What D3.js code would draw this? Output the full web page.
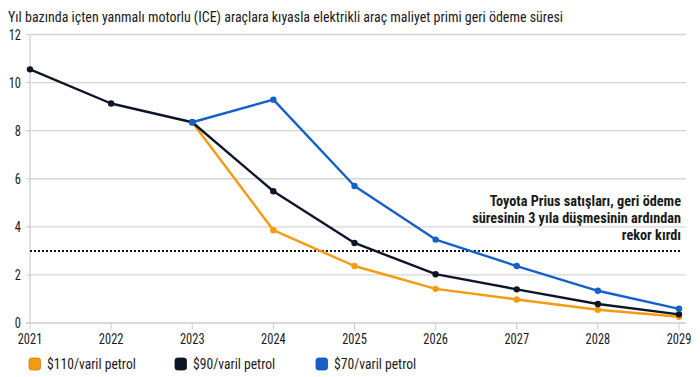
<!DOCTYPE html>
<html><head><meta charset="utf-8">
<script src="https://cdn.jsdelivr.net/npm/d3@7"></script>
<style>
html,body{margin:0;padding:0;background:#fff;}
text{font-family:"Roboto Condensed","Roboto","Liberation Sans Narrow",sans-serif;}
</style></head>
<body><svg id="c" width="700" height="377"></svg>
<script>
const years = [2021,2022,2023,2024,2025,2026,2027,2028,2029];
const yTicks = [0,2,4,6,8,10,12];
const s110Years = [2023,2024,2025,2026,2027,2028,2029];
const s110 = [8.35,3.86,2.37,1.42,0.98,0.55,0.26];
const s90Years = [2021,2022,2023,2024,2025,2026,2027,2028,2029];
const s90 = [10.55,9.13,8.35,5.48,3.33,2.03,1.40,0.79,0.36];
const s70Years = [2023,2024,2025,2026,2027,2028,2029];
const s70 = [8.35,9.29,5.70,3.47,2.37,1.34,0.59];
const seriesNames = ["$110/varil petrol","$90/varil petrol","$70/varil petrol"];
const seriesColors = ["#f39c12","#0d1626","#1560c9"];
const thresholdValue = 3;
const title = "Yıl bazında içten yanmalı motorlu (ICE) araçlara kıyasla elektrikli araç maliyet primi geri ödeme süresi";
const annotation = ["Toyota Prius satışları, geri ödeme","süresinin 3 yıla düşmesinin ardından","rekor kırdı"];

const svg = d3.select("#c");
const x = d3.scaleLinear().domain([2021,2029]).range([30,679]);
const y = d3.scaleLinear().domain([0,12]).range([323,34.5]);
const CF = 0.86; // condensed factor

function ctext(g, tx, ty, str, opts){
  const t = g.append("text").attr("transform",`translate(${tx},${ty}) scale(${opts.f||CF},1)`)
    .attr("text-anchor",opts.anchor||"start").attr("font-size",opts.size||14)
    .attr("fill",opts.fill||"#222").attr("font-weight",opts.weight||"normal").text(str);
  return t;
}

// grid
svg.append("g").selectAll("line").data(yTicks.filter(d=>d>0)).join("line")
  .attr("x1",x(2021)).attr("x2",686).attr("y1",d=>y(d)).attr("y2",d=>y(d))
  .attr("stroke","#d6d6d6").attr("stroke-width",1.3);
// y tick marks
svg.append("g").selectAll("line").data(yTicks).join("line")
  .attr("x1",x(2021)-4).attr("x2",x(2021)).attr("y1",d=>y(d)).attr("y2",d=>y(d))
  .attr("stroke","#ccc").attr("stroke-width",1);
// axes lines
svg.append("line").attr("x1",x(2021)).attr("x2",x(2021)).attr("y1",y(12)).attr("y2",y(0)).attr("stroke","#ccc").attr("stroke-width",1.2);
svg.append("line").attr("x1",x(2021)-4).attr("x2",686).attr("y1",y(0)).attr("y2",y(0)).attr("stroke","#ccc").attr("stroke-width",1.3);
// x ticks
svg.append("g").selectAll("line").data(years).join("line")
  .attr("x1",d=>x(d)).attr("x2",d=>x(d)).attr("y1",y(0)).attr("y2",y(0)+7)
  .attr("stroke","#ccc").attr("stroke-width",1);

// y labels
const yl = svg.append("g");
yTicks.forEach(d=>ctext(yl, 21, y(d)+5, d3.format("d")(d), {anchor:"end", size:14.5, fill:"#1a1a1a"}));
// x labels
const xl = svg.append("g");
years.forEach(d=>ctext(xl, x(d), 344, String(d), {anchor:"middle", size:14.5, fill:"#1a1a1a"}));

// title
svg.append("text").attr("x",8).attr("y",22).attr("font-size",14.5).attr("fill","#1a1a1a")
  .attr("textLength",555).attr("lengthAdjust","spacingAndGlyphs").text(title);

// threshold dotted
svg.append("line").attr("x1",x(2021)).attr("x2",682).attr("y1",y(thresholdValue)).attr("y2",y(thresholdValue))
  .attr("stroke","#111").attr("stroke-width",2).attr("stroke-dasharray","2,2");

// annotation
const an = svg.append("g");
[206,223,240].forEach((yy,i)=>ctext(an, 681, yy, annotation[i], {anchor:"end", size:15.5, weight:"bold", fill:"#1a1a1a", f:0.92}));

// series
const series = [
  {yrs:s110Years, vals:s110, c:seriesColors[0]},
  {yrs:s90Years, vals:s90, c:seriesColors[1]},
  {yrs:s70Years, vals:s70, c:seriesColors[2]},
];
const line = d3.line().x(d=>x(d[0])).y(d=>y(d[1]));
const order = [0,1,2];
order.forEach(i=>{
  const s = series[i];
  const pts = s.yrs.map((yr,j)=>[yr,s.vals[j]]);
  svg.append("path").datum(pts).attr("d",line).attr("fill","none").attr("stroke",s.c).attr("stroke-width",2.4).attr("stroke-linejoin","round");
});
order.forEach(i=>{
  const s = series[i];
  const pts = s.yrs.map((yr,j)=>[yr,s.vals[j]]);
  svg.append("g").selectAll("circle").data(pts).join("circle")
    .attr("cx",d=>x(d[0])).attr("cy",d=>y(d[1])).attr("r",3.2).attr("fill",s.c);
});

// legend
const lg = svg.append("g");
const lx = [29,175,316];
seriesNames.forEach((n,i)=>{
  lg.append("rect").attr("x",lx[i]).attr("y",358).attr("width",11.5).attr("height",12).attr("rx",2.5)
    .attr("fill",seriesColors[i]).attr("stroke",d3.color(seriesColors[i]).darker(0.6)).attr("stroke-width",0.8);
  ctext(lg, lx[i]+18, 369, n, {size:14.5, f:0.94, fill:"#1a1a1a"});
});
</script></body></html>
